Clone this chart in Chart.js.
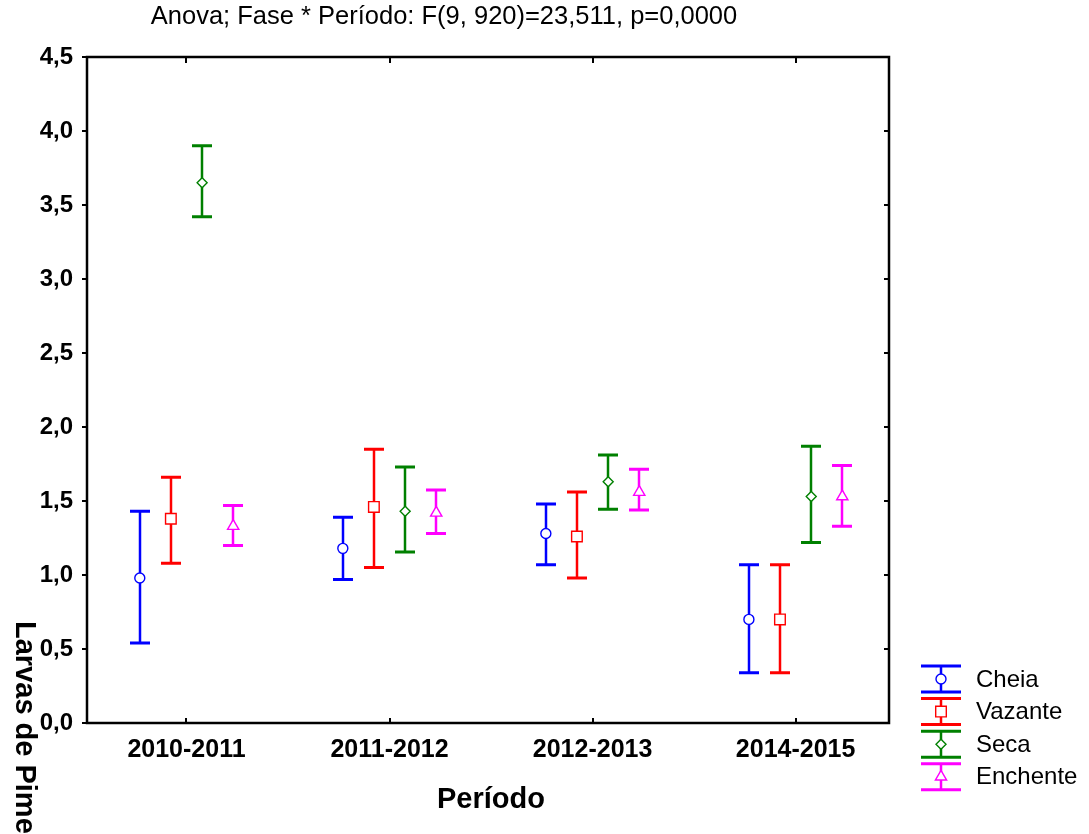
<!DOCTYPE html>
<html>
<head>
<meta charset="utf-8">
<script src="https://cdn.jsdelivr.net/npm/chart.js@4/dist/chart.umd.min.js"></script>
<style>
  html, body { margin: 0; padding: 0; background: #fff; }
</style>
</head>
<body>
<canvas id="chart" width="1089" height="834"></canvas>
<script>
// data
const periods = ['2010-2011', '2011-2012', '2012-2013', '2014-2015']
const phases = ['Cheia', 'Vazante', 'Seca', 'Enchente']
const colours = ['#0000ff', '#ff0000', '#008000', '#ff00ff']
const markers = ['circle', 'rect', 'rectRot', 'triangle']
const markerSizes = [5, 7.5, 5, 6.5]
const offsets = [-0.23, -0.077, 0.077, 0.23]

const cheiaMean = [0.98, 1.18, 1.28, 0.70]
const cheiaLow = [0.54, 0.97, 1.07, 0.34]
const cheiaHigh = [1.43, 1.39, 1.48, 1.07]

const vazanteMean = [1.38, 1.46, 1.26, 0.70]
const vazanteLow = [1.08, 1.05, 0.98, 0.34]
const vazanteHigh = [1.66, 1.85, 1.56, 1.07]

const secaMean = [3.65, 1.43, 1.63, 1.53]
const secaLow = [3.42, 1.155, 1.445, 1.22]
const secaHigh = [3.90, 1.73, 1.81, 1.87]

const enchenteMean = [1.33, 1.42, 1.56, 1.53]
const enchenteLow = [1.20, 1.28, 1.44, 1.33]
const enchenteHigh = [1.47, 1.575, 1.715, 1.74]

const yTicks = [0, 0.5, 1, 1.5, 2, 2.5, 3, 3.5, 4, 4.5]

const title = 'Anova; Fase * Período: F(9, 920)=23,511, p=0,0000'
const xTitle = 'Período'
const yTitle = 'Larvas de Pimelodidae'

const means = [cheiaMean, vazanteMean, secaMean, enchenteMean]
const lows = [cheiaLow, vazanteLow, secaLow, enchenteLow]
const highs = [cheiaHigh, vazanteHigh, secaHigh, enchenteHigh]

const comma = v => v.toFixed(1).replace('.', ',')

// build datasets: mean points, with whiskers kept alongside
const datasets = phases.map((name, k) => ({
  label: name,
  data: means[k].map((m, i) => ({ x: i + offsets[k], y: m })),
  low: lows[k],
  high: highs[k],
  pointStyle: markers[k],
  pointRadius: markerSizes[k],
  pointBorderWidth: 1.4,
  borderColor: colours[k],
  backgroundColor: '#ffffff',
  showLine: false
}))

// draw the whiskers under the points
const errorBars = {
  id: 'errorBars',
  beforeDatasetsDraw (chart) {
    const { ctx, scales: { x, y } } = chart
    ctx.save()
    chart.data.datasets.forEach((ds) => {
      ctx.strokeStyle = ds.borderColor
      ds.data.forEach((p, i) => {
        const px = Math.round(x.getPixelForValue(p.x))
        const top = y.getPixelForValue(ds.high[i])
        const bot = y.getPixelForValue(ds.low[i])
        ctx.lineWidth = 2.5
        ctx.beginPath()
        ctx.moveTo(px, top)
        ctx.lineTo(px, bot)
        ctx.stroke()
        ctx.lineWidth = 3
        ctx.beginPath()
        ctx.moveTo(px - 10, top)
        ctx.lineTo(px + 10, top)
        ctx.moveTo(px - 10, bot)
        ctx.lineTo(px + 10, bot)
        ctx.stroke()
      })
    })
    ctx.restore()
  }
}

// frame, tick marks, titles and legend
const decorations = {
  id: 'decorations',
  afterDraw (chart) {
    const { ctx, chartArea: a, scales: { x, y } } = chart
    ctx.save()
    ctx.strokeStyle = '#000'
    ctx.lineWidth = 2.5
    ctx.strokeRect(a.left, a.top, a.right - a.left, a.bottom - a.top)

    ctx.lineWidth = 2
    ctx.beginPath()
    yTicks.forEach((v) => {
      const py = Math.round(y.getPixelForValue(v))
      ctx.moveTo(a.left - 5, py)
      ctx.lineTo(a.left, py)
      ctx.moveTo(a.right, py)
      ctx.lineTo(a.right - 5, py)
    })
    periods.forEach((p, i) => {
      const px = Math.round(x.getPixelForValue(i))
      ctx.moveTo(px, a.bottom)
      ctx.lineTo(px, a.bottom - 5)
      ctx.moveTo(px, a.top)
      ctx.lineTo(px, a.top + 6)
    })
    ctx.stroke()

    ctx.fillStyle = '#000'
    ctx.textAlign = 'center'
    ctx.textBaseline = 'middle'
    ctx.font = '25.5px "Liberation Sans", Arial, sans-serif'
    ctx.fillText(title, 444, 17)

    ctx.font = 'bold 29px "Liberation Sans", Arial, sans-serif'
    ctx.fillText(xTitle, 491, 800)

    ctx.save()
    ctx.translate(24, 621)
    ctx.rotate(Math.PI / 2)
    ctx.textAlign = 'left'
    ctx.fillText(yTitle, 0, 0)
    ctx.restore()

    // legend: whisker glyph with marker, then the name
    ctx.font = '24px "Liberation Sans", Arial, sans-serif'
    ctx.textAlign = 'left'
    chart.data.datasets.forEach((ds, k) => {
      const cy = 679 + k * 32.6
      const cx = 941
      ctx.strokeStyle = ds.borderColor
      ctx.lineWidth = 3
      ctx.beginPath()
      ctx.moveTo(cx - 20, cy - 13)
      ctx.lineTo(cx + 20, cy - 13)
      ctx.moveTo(cx - 20, cy + 13)
      ctx.lineTo(cx + 20, cy + 13)
      ctx.stroke()
      ctx.lineWidth = 2.5
      ctx.beginPath()
      ctx.moveTo(cx, cy - 13)
      ctx.lineTo(cx, cy + 13)
      ctx.stroke()
      ctx.fillStyle = '#fff'
      ctx.lineWidth = 1.4
      Chart.helpers.drawPoint(ctx, { pointStyle: ds.pointStyle, radius: ds.pointRadius, rotation: 0, borderWidth: 1.4 }, cx, cy)
      ctx.fillStyle = '#000'
      ctx.fillText(ds.label, 976, cy + 1)
    })
    ctx.restore()
  }
}

new Chart(document.getElementById('chart'), {
  type: 'scatter',
  data: { datasets },
  options: {
    responsive: false,
    animation: false,
    layout: { padding: { top: 57, right: 200, left: 0, bottom: 0 } },
    plugins: { legend: { display: false }, tooltip: { enabled: false } },
    scales: {
      x: {
        type: 'linear',
        min: -0.49,
        max: 3.46,
        afterBuildTicks: (s) => { s.ticks = periods.map((p, i) => ({ value: i })) },
        afterFit: (s) => { s.height = 111 },
        ticks: {
          callback: (v) => periods[v],
          color: '#000',
          font: { family: '"Liberation Sans", Arial, sans-serif', size: 25, weight: 'bold' },
          padding: 12,
          maxRotation: 0
        },
        grid: { display: false, drawTicks: false },
        border: { display: false }
      },
      y: {
        min: 0,
        max: 4.5,
        afterBuildTicks: (s) => { s.ticks = yTicks.map(v => ({ value: v })) },
        afterFit: (s) => { s.width = 87 },
        ticks: {
          callback: comma,
          color: '#000',
          font: { family: '"Liberation Sans", Arial, sans-serif', size: 24, weight: 'bold' },
          padding: 14
        },
        grid: { display: false, drawTicks: false },
        border: { display: false }
      }
    }
  },
  plugins: [errorBars, decorations]
})
</script>
</body>
</html>
